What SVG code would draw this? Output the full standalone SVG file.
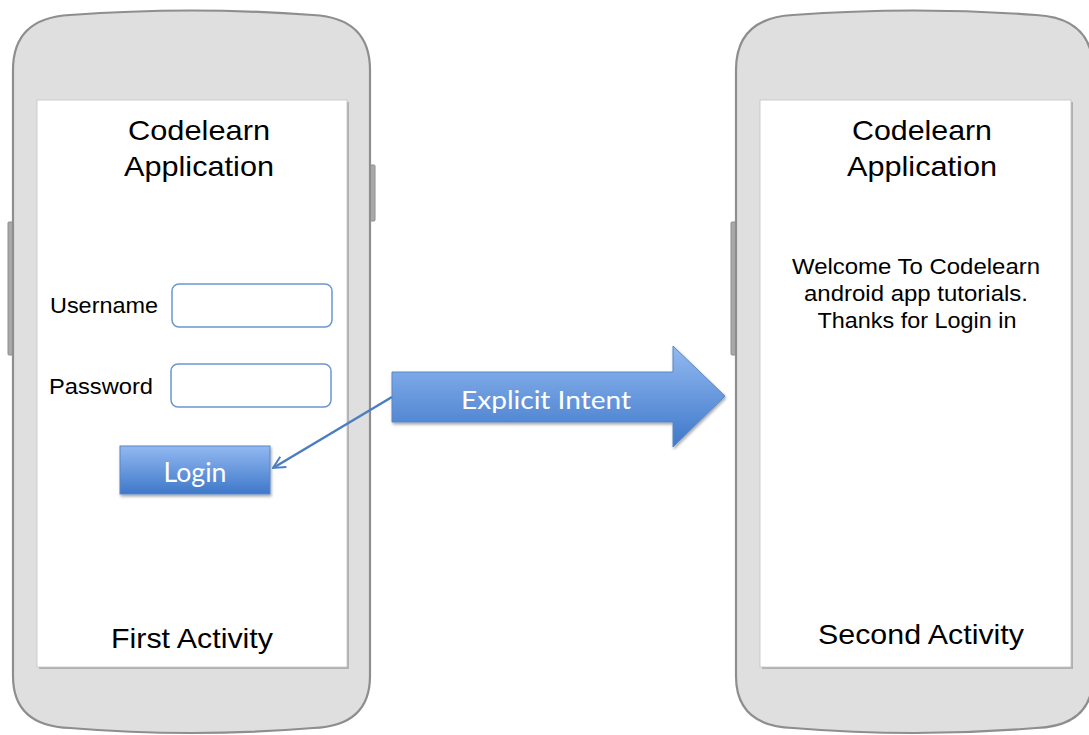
<svg xmlns="http://www.w3.org/2000/svg" width="1089" height="735" viewBox="0 0 1089 735">
<style>
.body{fill:#dfdfdf;stroke:#8e8e8e;stroke-width:2.2}
.btn{fill:#a9a9a9;stroke:#8e8e8e;stroke-width:1}
.screen{fill:#ffffff;stroke:#c4c4c4;stroke-width:0.8}
.shadow{fill:#8a8a8a;opacity:0.55}
.t{font-family:"Liberation Sans",Arial,sans-serif;fill:#000}
.w{font-family:Lato,"Open Sans",sans-serif;fill:#ffffff}
.input{fill:#ffffff;stroke:#6b96cf;stroke-width:1.5}
.blue{fill:url(#g);stroke:#5a86c4;stroke-width:1}
.conn{stroke:#4a7ec0;stroke-width:2.5;fill:none}
</style>
<defs>
<linearGradient id="g" x1="0" y1="0" x2="0" y2="1">
<stop offset="0" stop-color="#92b9f1"/>
<stop offset="1" stop-color="#3e78c9"/>
</linearGradient>
<filter id="ds" x="-10%" y="-10%" width="130%" height="140%">
<feDropShadow dx="1" dy="2" stdDeviation="1.5" flood-color="#000" flood-opacity="0.35"/>
</filter>
<marker id="ah" viewBox="0 0 10 10" refX="9" refY="5" markerWidth="6" markerHeight="6" orient="auto" markerUnits="strokeWidth">
<path d="M1,1 L9,5 L1,9" fill="none" stroke="#4a7ec0" stroke-width="1.3"/>
</marker>
</defs>
<rect width="1089" height="735" fill="#ffffff"/>

<g id="phone1">
<rect class="btn" x="8" y="222" width="6" height="133" rx="1"/>
<rect class="btn" x="369" y="165" width="6" height="56" rx="1"/>
<path class="body" d="M13,70 Q13,18 70,15 Q191,6 313,15 Q370,18 370,70 L370,676 Q370,726 313,728 Q191,738 70,728 Q13,726 13,676 Z"/>
<rect class="shadow" x="39" y="102" width="310" height="567"/>
<rect class="screen" x="37" y="100" width="310" height="567"/>
<text class="t" x="199" y="140" font-size="28" text-anchor="middle" textLength="142" lengthAdjust="spacingAndGlyphs">Codelearn</text>
<text class="t" x="199" y="176" font-size="28" text-anchor="middle" textLength="150" lengthAdjust="spacingAndGlyphs">Application</text>
<text class="t" x="50" y="313" font-size="22" textLength="108" lengthAdjust="spacingAndGlyphs">Username</text>
<text class="t" x="49" y="394" font-size="22" textLength="104" lengthAdjust="spacingAndGlyphs">Password</text>
<rect class="input" x="172" y="284" width="160" height="43" rx="7"/>
<rect class="input" x="171" y="364" width="160" height="43" rx="7"/>
<text class="t" x="111" y="648" font-size="28" textLength="162" lengthAdjust="spacingAndGlyphs">First Activity</text>
</g>

<g id="login">
<rect class="blue" x="120" y="446" width="150" height="48" filter="url(#ds)"/>
<text class="w" x="195" y="482" font-size="26" text-anchor="middle" textLength="63" lengthAdjust="spacingAndGlyphs">Login</text>
</g>

<g id="phone2">
<rect class="btn" x="731" y="222" width="6" height="133" rx="1"/>
<path class="body" d="M736,70 Q736,18 793,15 Q914,6 1036,15 Q1093,18 1093,70 L1093,676 Q1093,726 1036,728 Q914,738 793,728 Q736,726 736,676 Z"/>
<rect class="shadow" x="762" y="102" width="311" height="567"/>
<rect class="screen" x="760" y="100" width="311" height="567"/>
<text class="t" x="922" y="140" font-size="28" text-anchor="middle" textLength="140" lengthAdjust="spacingAndGlyphs">Codelearn</text>
<text class="t" x="922" y="176" font-size="28" text-anchor="middle" textLength="150" lengthAdjust="spacingAndGlyphs">Application</text>
<text class="t" x="916" y="274" font-size="22" text-anchor="middle" textLength="248" lengthAdjust="spacingAndGlyphs">Welcome To Codelearn</text>
<text class="t" x="916" y="301" font-size="22" text-anchor="middle" textLength="224" lengthAdjust="spacingAndGlyphs">android app tutorials.</text>
<text class="t" x="917" y="328" font-size="22" text-anchor="middle" textLength="199" lengthAdjust="spacingAndGlyphs">Thanks for Login in</text>
<text class="t" x="818" y="644" font-size="28" textLength="206" lengthAdjust="spacingAndGlyphs">Second Activity</text>
</g>

<g id="intent">
<path class="blue" d="M392,372 L673,372 L673,346 L725,396 L673,447 L673,422 L392,422 Z" filter="url(#ds)"/>
<text class="w" x="461" y="409" font-size="25" textLength="170" lengthAdjust="spacingAndGlyphs">Explicit Intent</text>
</g>

<g id="connectors">
<line class="conn" x1="392" y1="397" x2="273" y2="468" marker-end="url(#ah)"/>
</g>
</svg>
